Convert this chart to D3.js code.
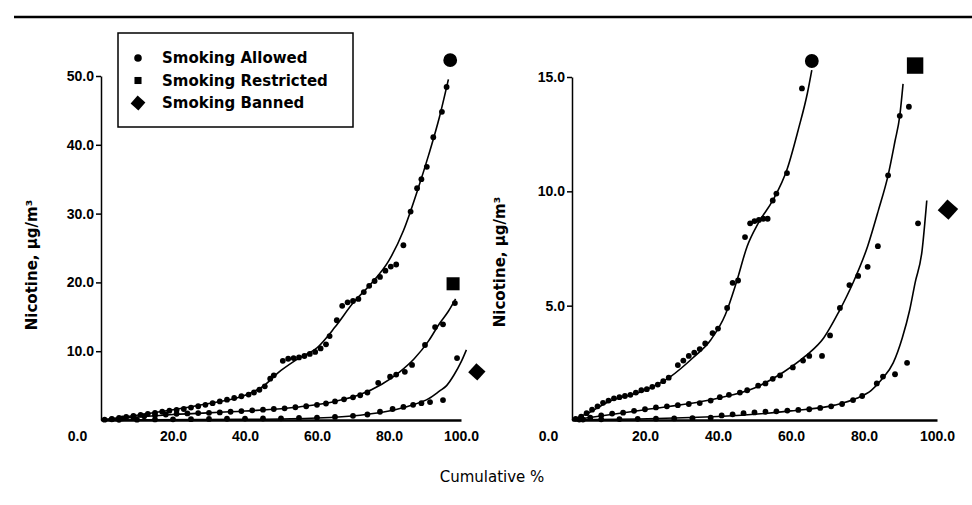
<!DOCTYPE html>
<html>
<head>
<meta charset="utf-8">
<script src="https://d3js.org/d3.v7.min.js"></script>
<style>
body { margin: 0; background: #fff; }
svg { font-family: "DejaVu Sans", "Liberation Sans", Arial, sans-serif; }
</style>
</head>
<body>
<svg></svg>
<script>
// Values: [cumulative %, nicotine ug/m3]
var xTicks = [0, 20, 40, 60, 80, 100];
var leftYTicks = [10, 20, 30, 40, 50];
var rightYTicks = [5, 10, 15];
var seriesNames = ["Smoking Allowed", "Smoking Restricted", "Smoking Banned"];

// Left panel - measured points
var leftAllowed = [[1,0.05],[3,0.15],[5,0.3],[7,0.45],[9,0.6],[11,0.75],[13,0.9],[15,1.05],[17,1.2],[19,1.35],
	[21,1.45],[23,1.6],[25,1.8],[27,2.0],[29,2.2],[31,2.45],[33,2.7],[35,2.95],[37,3.2],[39,3.45],[41,3.7],
	[42.5,4.0],[44,4.4],[45.5,4.9],[47,6.0],[48,6.5],[50.5,8.6],[52,8.9],[53.5,9.0],[55,9.1],[56.5,9.3],
	[58,9.6],[59.5,9.9],[61,10.4],[62.5,11.0],[63.5,12.2],[65.5,14.5],[67,16.6],[68.5,17.1],[70,17.3],
	[71.5,17.6],[73,18.6],[74.5,19.5],[76,20.2],[77.5,20.8],[79,21.7],[80.5,22.3],[82,22.6],[84,25.4],
	[86,30.3],[87.8,33.7],[89,35],[90.5,36.8],[92.3,41.1],[94.7,44.8],[96,48.4]];
var leftRestricted = [[3,0.1],[6,0.25],[9,0.4],[12,0.55],[15,0.7],[18,0.8],[21,0.9],[24,0.95],[27,1.0],
	[30,1.05],[33,1.1],[36,1.2],[39,1.3],[42,1.4],[45,1.5],[48,1.6],[51,1.7],[54,1.85],[57,2.0],[60,2.2],
	[62.5,2.4],[65,2.7],[67.5,3.0],[70,3.3],[72,3.6],[74,4.0],[77,5.4],[80.3,6.3],[82,6.6],[84.4,7.0],
	[86.4,8.0],[90,10.9],[92.8,13.5],[95,13.9],[98.3,17]];
var leftBanned = [[5,0.02],[10,0.05],[15,0.08],[20,0.1],[25,0.12],[30,0.15],[35,0.18],[40,0.2],[45,0.22],
	[50,0.25],[55,0.3],[60,0.35],[65,0.45],[70,0.6],[74,0.8],[77.5,1.2],[81,1.6],[84,1.9],[86.7,2.2],
	[89,2.45],[91.4,2.6],[95,2.9],[98.9,9.0]];

// Left panel - fitted curves
var leftAllowedFit = [[0,0],[10,0.7],[20,1.5],[30,2.4],[40,3.6],[45,4.9],[50,7.2],[55,9.0],[60,10.5],
	[65,13.5],[70,17.0],[75,19.8],[80,23.2],[84,27.5],[88,33.5],[91,38.5],[94,44],[96.5,49.5]];
var leftRestrictedFit = [[0,0],[20,0.8],[40,1.3],[55,1.9],[65,2.7],[72,3.7],[78,5.2],[83,7],[87,8.9],
	[91,11.5],[94,14],[96.5,15.8],[98.5,17.6]];
var leftBannedFit = [[0,0],[40,0.1],[60,0.3],[72,0.7],[80,1.3],[86,2.1],[91,3.1],[94,4.2],[96,5.0],
	[98,6.5],[100,8.4],[101.5,10.2]];

// Right panel - measured points
var rightAllowed = [[1,0.05],[2.5,0.15],[4,0.3],[5.5,0.45],[7,0.6],[8.5,0.75],[10,0.85],[11.5,0.95],
	[13,1.0],[14.5,1.05],[16,1.1],[17.5,1.2],[19,1.3],[20.5,1.35],[22,1.45],[23.5,1.55],[25,1.7],[26.5,1.85],
	[29,2.4],[30.5,2.6],[32,2.8],[33.5,2.95],[35,3.1],[36.5,3.35],[38.5,3.8],[40,4.0],[42.5,4.9],[44,6.0],
	[45.5,6.1],[47.4,8.0],[48.8,8.6],[50,8.7],[51.2,8.75],[52.4,8.8],[53.6,8.8],[55,9.6],[56,9.9],
	[58.9,10.8],[63,14.5]];
var rightRestricted = [[2,0.02],[5,0.1],[8,0.2],[11,0.28],[14,0.32],[17,0.4],[20,0.47],[23,0.55],[26,0.6],
	[29,0.65],[32,0.7],[35,0.74],[38,0.85],[40.5,1.0],[43,1.1],[46,1.2],[48,1.3],[51,1.5],[53,1.6],[55,1.8],
	[57,1.95],[60.5,2.3],[63.3,2.6],[65,2.8],[68.5,2.8],[70.7,3.7],[73.4,4.9],[76,5.9],[78.4,6.3],[81,6.7],
	[83.8,7.6],[86.6,10.7],[89.8,13.3],[92.3,13.7]];
var rightBanned = [[3,0.02],[8,0.03],[13,0.04],[18,0.05],[23,0.06],[28,0.07],[33,0.08],[38,0.1],[41,0.2],
	[44,0.25],[47,0.3],[50,0.33],[53,0.36],[56,0.38],[59,0.41],[62,0.44],[65,0.47],[68,0.53],[71,0.6],
	[74,0.7],[77,0.87],[79.5,1.05],[83.5,1.6],[85.2,1.9],[88.5,2.0],[91.8,2.5],[94.8,8.6]];

// Right panel - fitted curves
var rightAllowedFit = [[0,0],[5,0.35],[10,0.8],[20,1.3],[27,1.9],[33,2.7],[38,3.5],[42,4.6],[45,6],
	[48,7.6],[51,8.6],[55,9.6],[59,11],[62,12.7],[64.5,14.3],[65.7,15.3]];
var rightRestrictedFit = [[0,0],[20,0.45],[40,0.95],[50,1.4],[58,2.1],[64,2.8],[69,3.6],[73,4.7],[77,6],
	[81,7.6],[84,9.2],[86.6,10.7],[88.5,12.2],[89.8,13.3],[90.7,14.7]];
var rightBannedFit = [[0,0],[40,0.15],[60,0.4],[72,0.65],[78,0.95],[82,1.3],[85,1.8],[88,2.5],[90.5,3.6],
	[92.5,4.8],[94,6],[95.9,7.4],[97.2,9.6]];

// Big end-of-curve symbols [%, value]
var leftMarkers = [[97,52.3],[97.8,19.8],[104.4,7]];
var rightMarkers = [[65.7,15.7],[94,15.5],[103,9.2]];

var width = 972, height = 505;

var svg =
	d3.select("body").select("svg")
		.attr("width", width)
		.attr("height", height)
		.style("background", "#fff");

// rule across the top
svg.append("line")
	.attr("x1", 14)
	.attr("x2", width)
	.attr("y1", 17)
	.attr("y2", 17)
	.attr("stroke", "#000")
	.attr("stroke-width", 2.5);

var xLeft = d3.scaleLinear().domain([0, 100]).range([101, 461]);
var yLeft = d3.scaleLinear().domain([0, 50]).range([420, 76]);
var xRight = d3.scaleLinear().domain([0, 100]).range([572, 937]);
var yRight = d3.scaleLinear().domain([0, 15]).range([420, 77]);

var shapes = [d3.symbolCircle, d3.symbolSquare, d3.symbolSquare];
var shapeTurn = [0, 0, 42];

function drawPanel(x, y, yTicks, points, fits, markers, markerSizes)
{
	var g = svg.append("g");

	// y axis
	g.append("g")
		.attr("transform", "translate(" + x(0) + ",0)")
		.call(d3.axisLeft(y).tickValues(yTicks).tickFormat(d3.format(".1f")).tickSize(5).tickSizeOuter(0))
		.call(function(a) {
			a.select(".domain").attr("stroke-width", 1.5);
			a.selectAll(".tick line").attr("stroke-width", 1.5);
			a.selectAll("text")
				.attr("font-size", "14px")
				.attr("font-weight", "bold")
				.attr("fill", "#000")
				.attr("x", -7);
		});

	// x axis, thick base line
	g.append("g")
		.attr("transform", "translate(0," + y(0) + ")")
		.call(d3.axisBottom(x).tickValues(xTicks).tickFormat(d3.format(".1f")).tickSize(0).tickPadding(11))
		.call(function(a) {
			a.select(".domain").attr("stroke-width", 2.5);
			a.selectAll("text")
				.attr("font-size", "14px")
				.attr("font-weight", "bold")
				.attr("fill", "#000")
				.attr("dx", function(d) { return d === 0 ? -24 : 0; });
		});

	var line = d3.line()
		.x(function(d) { return x(d[0]); })
		.y(function(d) { return y(d[1]); })
		.curve(d3.curveMonotoneX);

	// fitted curves
	g.selectAll(".fit")
			.data(fits)
		.enter().append("path")
			.attr("class", "fit")
			.attr("d", line)
			.attr("fill", "none")
			.attr("stroke", "#000")
			.attr("stroke-width", 1.6);

	// measured points
	points.forEach(function(set) {
		g.selectAll(null)
				.data(set)
			.enter().append("circle")
				.attr("cx", function(d) { return x(d[0]); })
				.attr("cy", function(d) { return y(d[1]); })
				.attr("r", 2.9)
				.attr("fill", "#000");
	});

	// end symbols
	g.selectAll(".mark")
			.data(markers)
		.enter().append("path")
			.attr("class", "mark")
			.attr("d", function(d, i) { return d3.symbol().type(shapes[i]).size(markerSizes[i])(); })
			.attr("transform", function(d, i) {
				return "translate(" + x(d[0]) + "," + y(d[1]) + ") rotate(" + shapeTurn[i] + ")";
			})
			.attr("fill", "#000");
}

drawPanel(xLeft, yLeft, leftYTicks,
	[leftAllowed, leftRestricted, leftBanned],
	[leftAllowedFit, leftRestrictedFit, leftBannedFit],
	leftMarkers, [150, 170, 150]);

drawPanel(xRight, yRight, rightYTicks,
	[rightAllowed, rightRestricted, rightBanned],
	[rightAllowedFit, rightRestrictedFit, rightBannedFit],
	rightMarkers, [150, 270, 210]);

// axis titles
svg.append("text")
	.attr("transform", "translate(37,265) rotate(-90)")
	.attr("text-anchor", "middle")
	.attr("font-size", "15px")
	.attr("font-weight", "bold")
	.text("Nicotine, \u00b5g/m\u00b3");

svg.append("text")
	.attr("transform", "translate(505,262) rotate(-90)")
	.attr("text-anchor", "middle")
	.attr("font-size", "15px")
	.attr("font-weight", "bold")
	.text("Nicotine, \u00b5g/m\u00b3");

svg.append("text")
	.attr("x", 492)
	.attr("y", 482)
	.attr("text-anchor", "middle")
	.attr("font-size", "15px")
	.text("Cumulative %");

// legend
var legend = svg.append("g");

legend.append("rect")
	.attr("x", 118)
	.attr("y", 33)
	.attr("width", 235)
	.attr("height", 94)
	.attr("fill", "#fff")
	.attr("stroke", "#000")
	.attr("stroke-width", 1.5);

legend.selectAll(".legend-mark")
		.data(seriesNames)
	.enter().append("path")
		.attr("class", "legend-mark")
		.attr("d", function(d, i) { return d3.symbol().type(shapes[i]).size([45, 50, 110][i])(); })
		.attr("transform", function(d, i) {
			return "translate(138," + (58 + i * 22.5) + ") rotate(" + shapeTurn[i] + ")";
		})
		.attr("fill", "#000");

legend.selectAll(".legend-text")
		.data(seriesNames)
	.enter().append("text")
		.attr("class", "legend-text")
		.attr("x", 162)
		.attr("y", function(d, i) { return 58 + i * 22.5; })
		.attr("dy", "0.35em")
		.attr("font-size", "15px")
		.attr("font-weight", "bold")
		.text(function(d) { return d; });
</script>
</body>
</html>
